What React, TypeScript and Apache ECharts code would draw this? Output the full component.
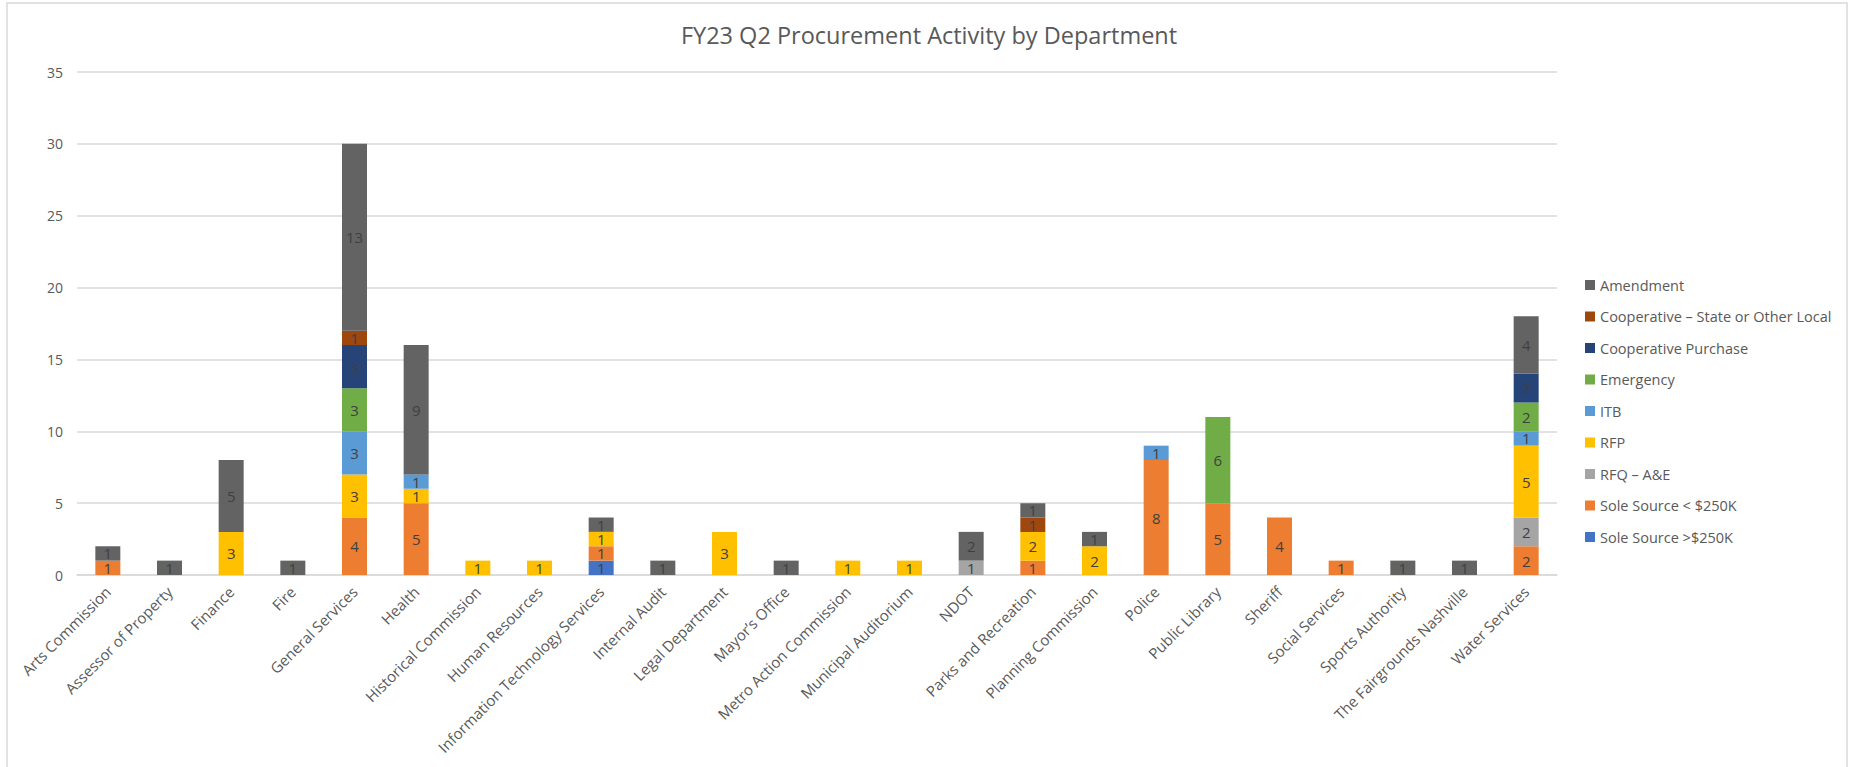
import React, { useEffect, useRef } from "react";
import * as echarts from "echarts";

const categories = [
  "Arts Commission", "Assessor of Property", "Finance", "Fire", "General Services", "Health",
  "Historical Commission", "Human Resources", "Information Technology Services", "Internal Audit",
  "Legal Department", "Mayor\u2019s Office", "Metro Action Commission", "Municipal Auditorium", "NDOT",
  "Parks and Recreation", "Planning Commission", "Police", "Public Library", "Sheriff",
  "Social Services", "Sports Authority", "The Fairgrounds Nashville", "Water Services",
];

// values per category (null = none)
const soleSourceOver = [null, null, null, null, null, null, null, null, 1, null, null, null, null, null, null, null, null, null, null, null, null, null, null, null];
const soleSourceUnder = [1, null, null, null, 4, 5, null, null, 1, null, null, null, null, null, null, 1, null, 8, 5, 4, 1, null, null, 2];
const rfqAE = [null, null, null, null, null, null, null, null, null, null, null, null, null, null, 1, null, null, null, null, null, null, null, null, 2];
const rfp = [null, null, 3, null, 3, 1, 1, 1, 1, null, 3, null, 1, 1, null, 2, 2, null, null, null, null, null, null, 5];
const itb = [null, null, null, null, 3, 1, null, null, null, null, null, null, null, null, null, null, null, 1, null, null, null, null, null, 1];
const emergency = [null, null, null, null, 3, null, null, null, null, null, null, null, null, null, null, null, null, null, 6, null, null, null, null, 2];
const coopPurchase = [null, null, null, null, 3, null, null, null, null, null, null, null, null, null, null, null, null, null, null, null, null, null, null, 2];
const coopState = [null, null, null, null, 1, null, null, null, null, null, null, null, null, null, null, 1, null, null, null, null, null, null, null, null];
const amendment = [1, 1, 5, 1, 13, 9, null, null, 1, 1, null, 1, null, null, 2, 1, 1, null, null, null, null, 1, 1, 4];

const seriesDefs = [
  { name: "Sole Source >$250K", data: soleSourceOver, color: "#4472C4" },
  { name: "Sole Source < $250K", data: soleSourceUnder, color: "#ED7D31" },
  { name: "RFQ \u2013 A&E", data: rfqAE, color: "#A5A5A5" },
  { name: "RFP", data: rfp, color: "#FFC000" },
  { name: "ITB", data: itb, color: "#5B9BD5" },
  { name: "Emergency", data: emergency, color: "#70AD47" },
  { name: "Cooperative Purchase", data: coopPurchase, color: "#264478" },
  { name: "Cooperative \u2013 State or Other Local", data: coopState, color: "#9E480E" },
  { name: "Amendment", data: amendment, color: "#636363" },
];

const yTicks = { min: 0, max: 35, interval: 5 };
const FONT = "'Open Sans', sans-serif";

export default function App() {
  const ref = useRef<HTMLDivElement>(null);
  useEffect(() => {
    if (!ref.current) return;
    const chart = echarts.init(ref.current, null, { renderer: "svg" });
    chart.setOption({
      animation: false,
      backgroundColor: "#ffffff",
      title: {
        text: "FY23 Q2 Procurement Activity by Department",
        left: "center",
        top: 18,
        textStyle: { fontFamily: FONT, fontSize: 23.5, fontWeight: "normal", color: "#595959" },
      },
      graphic: [
        {
          type: "rect",
          shape: { x: 7, y: 3, width: 1840, height: 900 },
          style: { fill: "none", stroke: "#d9d9d9", lineWidth: 1.5 },
          silent: true,
        },
      ],
      legend: {
        orient: "vertical",
        left: 1580,
        top: 272,
        itemWidth: 10,
        itemHeight: 10,
        itemGap: 15.5,
        icon: "rect",
        data: seriesDefs.map((s) => s.name).reverse(),
        textStyle: { fontFamily: FONT, fontSize: 14.5, color: "#595959", lineHeight: 16 },
      },
      grid: { left: 77, right: 1858 - 1557, top: 72, bottom: 767 - 575, containLabel: false },
      xAxis: {
        type: "category",
        data: categories,
        axisLine: { lineStyle: { color: "#d9d9d9", width: 1.5 } },
        axisTick: { show: false },
        axisLabel: {
          rotate: 45,
          interval: 0,
          margin: 14,
          fontFamily: FONT,
          fontSize: 15,
          color: "#595959",
        },
      },
      yAxis: {
        type: "value",
        min: yTicks.min,
        max: yTicks.max,
        interval: yTicks.interval,
        axisLine: { show: false },
        axisTick: { show: false },
        splitLine: { lineStyle: { color: "#d9d9d9", width: 1.5 } },
        axisLabel: { fontFamily: FONT, fontSize: 14, color: "#595959", margin: 14 },
      },
      series: seriesDefs.map((s) => ({
        name: s.name,
        type: "bar",
        stack: "total",
        data: s.data,
        barWidth: 25,
        itemStyle: { color: s.color },
        label: {
          show: true,
          position: "inside",
          fontFamily: FONT,
          fontSize: 15,
          color: "#404040",
        },
      })),
    });
    return () => chart.dispose();
  }, []);
  return <div ref={ref} style={{ position: "absolute", left: 0, top: 0, width: 1858, height: 767 }} />;
}
